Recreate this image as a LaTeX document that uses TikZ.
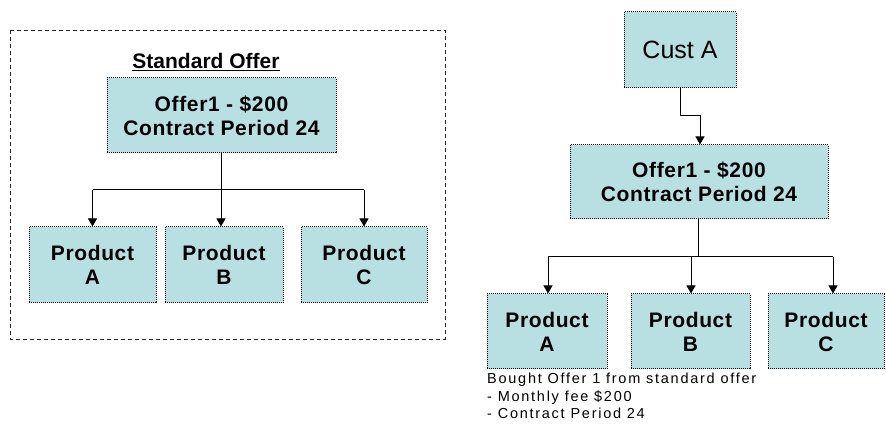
\documentclass[tikz,border=0pt]{standalone}
\usepackage{fontspec}
\setmainfont{Liberation Sans}
\usetikzlibrary{arrows.meta}
\definecolor{boxfill}{HTML}{B8DFE2}
\begin{document}
\begin{tikzpicture}[x=1pt,y=-1pt,
  card/.style={draw=black, line width=1pt, densely dotted, fill=boxfill,
    align=center, inner sep=0pt,
    font=\bfseries\fontsize{21}{24}\selectfont\addfontfeature{LetterSpace=3}},
  offerbox/.style={card, minimum height=75pt},
  prodbox/.style={card, minimum height=76pt},
  link/.style={line width=1pt, black},
  tolink/.style={link, -{Triangle[width=9pt,length=8pt]}}]
\useasboundingbox (0,0) rectangle (886,435);

% ---- standard offer group ----
\draw[black!85, line width=0.9pt, dash pattern=on 4pt off 3pt] (10,30) rectangle (445,339);
\node[font=\bfseries\fontsize{21}{24}\selectfont] (stdtitle) at (206,62) {\underline{Standard Offer}};
\node[offerbox, minimum width=229pt] (offL) at (221.5,115.5) {Offer1 - \$200\\Contract Period 24};
\node[prodbox, minimum width=127pt] (pLA) at (92.5,265) {Product\\A};
\node[prodbox, minimum width=118pt] (pLB) at (224,265) {Product\\B};
\node[prodbox, minimum width=126pt] (pLC) at (364,265) {Product\\C};
\coordinate (jL) at (221,190);
\draw[link] (offL.south -| jL) -- (jL);
\draw[link] (pLA.north |- jL) -- (pLC.north |- jL);
\draw[tolink] (pLA.north |- jL) -- (pLA.north);
\draw[tolink] (jL) -- (jL |- pLB.north);
\draw[tolink] (pLC.north |- jL) -- (pLC.north);

% ---- customer purchase ----
\node[card, font=\fontsize{25}{30}\selectfont, minimum width=112pt, minimum height=76pt] (cust) at (680,50) {Cust A};
\node[offerbox, minimum width=258pt, minimum height=74pt] (offR) at (699,182) {Offer1 - \$200\\Contract Period 24};
\node[prodbox, minimum width=120pt, minimum height=75pt] (pRA) at (547,331.5) {Product\\A};
\node[prodbox, minimum width=119pt, minimum height=75pt] (pRB) at (690.5,331.5) {Product\\B};
\node[prodbox, minimum width=116pt, minimum height=75pt] (pRC) at (826,331.5) {Product\\C};
\coordinate (bend) at (680,116);
\draw[tolink] (cust.south) -- (bend) -- (700,116) -- (700,116 |- offR.north);
\coordinate (jR) at (698,257);
\draw[link] (offR.south -| jR) -- (jR);
\draw[link] (548,257) -- (833,257);
\draw[tolink] (548,257) -- (548,257 |- pRA.north);
\draw[tolink] (691,257) -- (691,257 |- pRB.north);
\draw[tolink] (833,257) -- (833,257 |- pRC.north);
\node[anchor=north west, align=left, inner sep=0pt,
  font=\fontsize{14.5}{17.5}\selectfont\addfontfeature{LetterSpace=12}] (note) at (487,373)
  {Bought Offer 1 from standard offer\\- Monthly fee \$200\\- Contract Period 24};
\end{tikzpicture}
\end{document}
